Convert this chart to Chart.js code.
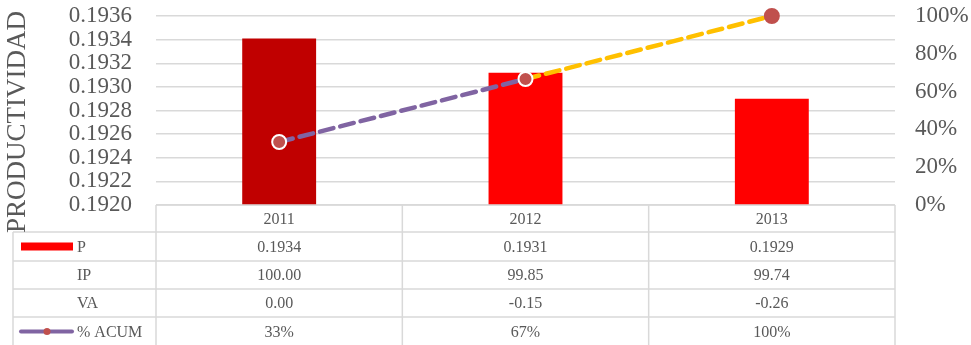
<!DOCTYPE html>
<html><head><meta charset="utf-8">
<script src="https://cdn.jsdelivr.net/npm/chart.js@4"></script>
<style>html,body{margin:0;padding:0;background:#fff;}#wrap{width:971px;height:345px;position:relative;}</style>
</head><body><div id="wrap"><canvas id="c" width="971" height="345"></canvas></div>
<script>
const years = ['2011', '2012', '2013'];
const productividad = [0.19341, 0.19312, 0.19290];
const ip = [100.00, 99.85, 99.74];
const va = [0.00, -0.15, -0.26];
const acum = [0.3333, 0.6667, 1.0];
const rowLabels = ['P', 'IP', 'VA', '% ACUM'];
const barColors = ['#C00000', '#FF0000', '#FF0000'];

const GRAY = '#595959';
const GRID = '#D9D9D9';
const SERIF = '"Liberation Serif", "Times New Roman", serif';
const PURPLE = '#8064A2', GOLD = '#FFC000', MARK = '#C0504D';

const tablePlugin = {
  id: 'tbl',
  afterDraw(chart) {
    const ctx = chart.ctx, ca = chart.chartArea, xs = chart.scales.x;
    const centers = years.map((_, i) => xs.getPixelForValue(i));
    const edges = [ca.left];
    for (let i = 0; i < centers.length - 1; i++) edges.push((centers[i] + centers[i + 1]) / 2);
    edges.push(ca.right);
    const b = ca.bottom;
    const ys = [b, b + 27, b + 56, b + 84, b + 112, b + 141];
    const leftX = 13;
    ctx.save();
    ctx.strokeStyle = GRID; ctx.lineWidth = 1.5;
    ctx.beginPath();
    ctx.moveTo(ca.left, ys[0]); ctx.lineTo(ca.right, ys[0]);
    for (let r = 1; r < ys.length; r++) { ctx.moveTo(leftX, ys[r]); ctx.lineTo(ca.right, ys[r]); }
    ctx.moveTo(leftX, ys[1]); ctx.lineTo(leftX, ys[5]);
    edges.forEach(e => { ctx.moveTo(e, ys[0]); ctx.lineTo(e, ys[5]); });
    ctx.stroke();

    ctx.fillStyle = GRAY;
    ctx.font = '16px ' + SERIF;
    ctx.textBaseline = 'middle';
    ctx.textAlign = 'center';
    const rows = [
      years,
      productividad.map(v => v.toFixed(4)),
      ip.map(v => v.toFixed(2)),
      va.map(v => v.toFixed(2)),
      acum.map(v => Math.round(v * 100) + '%')
    ];
    rows.forEach((row, r) => {
      const yc = (ys[r] + ys[r + 1]) / 2 + 1;
      row.forEach((t, i) => ctx.fillText(t, centers[i], yc));
    });
    ctx.textAlign = 'left';
    rowLabels.forEach((t, r) => {
      const yc = (ys[r + 1] + ys[r + 2]) / 2 + 1;
      ctx.fillText(t, 77, yc);
    });
    const yP = (ys[1] + ys[2]) / 2;
    ctx.fillStyle = '#FF0000';
    ctx.fillRect(21, yP - 4, 52, 8);
    const yA = (ys[4] + ys[5]) / 2;
    ctx.strokeStyle = PURPLE; ctx.lineWidth = 4; ctx.lineCap = 'round';
    ctx.beginPath(); ctx.moveTo(21, yA); ctx.lineTo(72, yA); ctx.stroke();
    ctx.fillStyle = MARK;
    ctx.beginPath(); ctx.arc(47, yA, 3.5, 0, Math.PI * 2); ctx.fill();

    ctx.translate(18, 122);
    ctx.rotate(-Math.PI / 2);
    ctx.font = '27px ' + SERIF;
    ctx.fillStyle = GRAY;
    ctx.textAlign = 'center';
    ctx.textBaseline = 'middle';
    ctx.fillText('PRODUCTIVIDAD', 0, 0);
    ctx.restore();
  }
};

function fixV(w) {
  return s => { s.width = w; s.paddingTop = 0; s.paddingBottom = 0; };
}

new Chart(document.getElementById('c'), {
  data: {
    labels: years,
    datasets: [
      {
        type: 'line', label: '% ACUM', data: acum, yAxisID: 'y1', order: 0,
        borderColor: PURPLE, borderWidth: 4.5, borderDash: [14, 7], borderCapStyle: 'round',
        segment: { borderColor: c => c.p0DataIndex === 0 ? PURPLE : GOLD },
        pointRadius: 7, pointBackgroundColor: MARK,
        pointBorderColor: ['#FFFFFF', '#FFFFFF', MARK], pointBorderWidth: 2,
        fill: false, tension: 0, clip: false
      },
      {
        type: 'bar', label: 'P', data: productividad, yAxisID: 'y', order: 1,
        backgroundColor: barColors, barPercentage: 0.3, categoryPercentage: 1
      }
    ]
  },
  options: {
    responsive: false, animation: false, devicePixelRatio: 1,
    layout: { autoPadding: false, padding: { top: 16, bottom: 140, left: 0, right: 0 } },
    plugins: { legend: { display: false }, tooltip: { enabled: false } },
    scales: {
      x: { type: 'category', display: false, offset: true, grid: { display: false } },
      y: {
        position: 'left', min: 0.192, max: 0.1936,
        ticks: { stepSize: 0.0002, autoSkip: false, callback: v => Number(v).toFixed(4), color: GRAY, font: { family: SERIF, size: 23, lineHeight: 1 }, padding: 24 },
        grid: { color: GRID, lineWidth: 1.5, drawTicks: false },
        border: { display: false },
        afterFit: fixV(156)
      },
      y1: {
        position: 'right', min: 0, max: 1,
        ticks: { stepSize: 0.2, autoSkip: false, callback: v => Math.round(v * 100) + '%', color: GRAY, font: { family: SERIF, size: 23, lineHeight: 1 }, padding: 20 },
        grid: { display: false, drawTicks: false },
        border: { display: false },
        afterFit: fixV(76)
      }
    }
  },
  plugins: [tablePlugin]
});
</script></body></html>
